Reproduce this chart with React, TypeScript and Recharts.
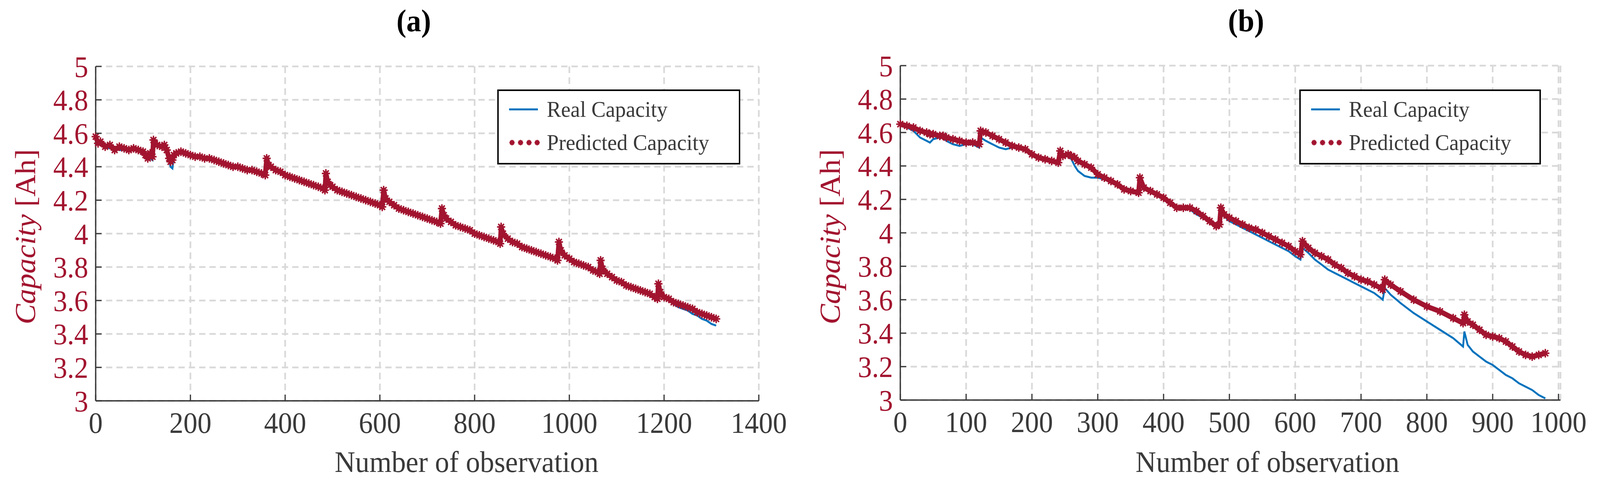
import { LineChart, Line, XAxis, YAxis, CartesianGrid, Legend } from 'recharts';

// panel (a)
const obsA = [
  0, 5, 10, 20, 30, 40, 50, 60, 70, 80, 90, 100, 105, 110, 115, 120,
  122, 125, 130, 140, 145, 150, 155, 158, 162,
  165, 170, 180, 190, 200, 210, 220, 230, 240, 250, 260, 270, 280, 290, 300, 310, 320, 330, 340, 350, 358,
  361, 365, 370, 380, 390, 400, 410, 420, 430, 440, 450, 460, 470, 480, 484,
  486, 490, 495, 500, 510, 520, 530, 540, 550, 560, 570, 580, 590, 600, 605,
  608, 612, 620, 630, 640, 650, 660, 670, 680, 690, 700, 710, 720, 728,
  731, 735, 740, 750, 760, 770, 780, 790, 800, 810, 820, 830, 840, 850, 854,
  856, 860, 870, 880, 890, 900, 910, 920, 930, 940, 950, 960, 970, 975,
  978, 982, 990, 1000, 1010, 1020, 1030, 1040, 1050, 1060, 1064,
  1066, 1070, 1080, 1090, 1100, 1110, 1120, 1130, 1140, 1150, 1160, 1170, 1180, 1186,
  1188, 1192, 1200, 1210, 1220, 1230, 1240, 1250, 1260, 1270, 1280, 1290, 1300, 1310,
];
const realA = [
  4.57, 4.55, 4.53, 4.52, 4.51, 4.51, 4.5, 4.5, 4.51, 4.5, 4.49, 4.48, 4.45, 4.44, 4.45, 4.44,
  4.55, 4.54, 4.53, 4.52, 4.51, 4.49, 4.44, 4.4, 4.39,
  4.46, 4.48, 4.48, 4.47, 4.47, 4.46, 4.46, 4.45, 4.44, 4.43, 4.43, 4.42, 4.41, 4.4, 4.4, 4.39, 4.38, 4.37, 4.37, 4.36, 4.35,
  4.44, 4.41, 4.4, 4.38, 4.36, 4.35, 4.34, 4.33, 4.32, 4.3, 4.29, 4.28, 4.28, 4.27, 4.26,
  4.34, 4.3, 4.28, 4.27, 4.26, 4.25, 4.24, 4.23, 4.22, 4.21, 4.2, 4.19, 4.18, 4.17, 4.16,
  4.24, 4.21, 4.19, 4.17, 4.15, 4.14, 4.13, 4.12, 4.11, 4.1, 4.09, 4.08, 4.07, 4.06,
  4.13, 4.11, 4.09, 4.07, 4.05, 4.04, 4.03, 4.01, 4.0, 3.99, 3.98, 3.97, 3.96, 3.95, 3.94,
  4.02, 4.0, 3.97, 3.95, 3.94, 3.92, 3.91, 3.9, 3.89, 3.88, 3.87, 3.86, 3.85, 3.84,
  3.93, 3.9, 3.87, 3.85, 3.83, 3.82, 3.81, 3.8, 3.78, 3.77, 3.76,
  3.82, 3.79, 3.76, 3.74, 3.72, 3.71, 3.69, 3.68, 3.67, 3.66, 3.65, 3.64, 3.62, 3.61,
  3.66, 3.64, 3.62, 3.6, 3.58, 3.56, 3.55, 3.54, 3.52, 3.51, 3.49, 3.48, 3.46, 3.45,
];
const predA = [
  4.58, 4.54, 4.55, 4.52, 4.53, 4.5, 4.52, 4.51, 4.5, 4.51, 4.5, 4.49, 4.47, 4.45, 4.48, 4.46,
  4.56, 4.54, 4.53, 4.52, 4.53, 4.5, 4.45, 4.43, 4.44,
  4.47, 4.48, 4.49, 4.48, 4.47, 4.46, 4.46, 4.45, 4.45, 4.44, 4.43, 4.42, 4.41, 4.4, 4.4, 4.39, 4.38, 4.38, 4.37, 4.36, 4.35,
  4.45, 4.41, 4.4, 4.38, 4.37, 4.35, 4.34, 4.33, 4.32, 4.31, 4.3, 4.29, 4.28, 4.27, 4.26,
  4.36, 4.31, 4.29, 4.28, 4.26, 4.25, 4.24, 4.23, 4.22, 4.21, 4.2, 4.19, 4.18, 4.17, 4.16,
  4.26, 4.21, 4.19, 4.17, 4.15, 4.14, 4.13, 4.12, 4.11, 4.1, 4.09, 4.08, 4.07, 4.06,
  4.15, 4.11, 4.09, 4.07, 4.05, 4.04, 4.03, 4.02, 4.0, 3.99, 3.98, 3.97, 3.96, 3.95, 3.94,
  4.04, 4.0, 3.97, 3.95, 3.94, 3.92, 3.91, 3.9, 3.89, 3.88, 3.87, 3.86, 3.85, 3.84,
  3.95, 3.9, 3.87, 3.85, 3.83, 3.82, 3.81, 3.8, 3.78, 3.77, 3.76,
  3.84, 3.79, 3.76, 3.74, 3.72, 3.71, 3.69, 3.68, 3.67, 3.66, 3.65, 3.64, 3.62, 3.61,
  3.7, 3.65, 3.62, 3.61, 3.59, 3.58, 3.57, 3.56, 3.55, 3.53, 3.52, 3.51, 3.5, 3.49,
];

// panel (b)
const obsB = [
  0, 10, 20, 30, 40, 45, 50, 60, 65, 70, 80, 90, 100, 110, 120,
  122, 130, 140, 150, 160, 170, 180, 190, 200, 210, 220, 230, 240,
  243, 247, 255, 260, 265, 270, 280, 290, 300, 310, 320, 330, 340, 350, 362,
  364, 370, 380, 390, 400, 410, 420, 430, 440, 450, 460, 470, 480, 485,
  487, 492, 500, 510, 520, 530, 540, 550, 560, 570, 580, 590, 600, 608,
  611, 620, 630, 640, 650, 660, 670, 680, 690, 700, 710, 720, 730, 733,
  736, 745, 760, 780, 800, 820, 840, 855,
  857, 862, 870, 880, 890, 900, 910, 920, 930, 940, 950, 960, 970, 980,
];
const realB = [
  4.64, 4.63, 4.61, 4.57, 4.55, 4.54, 4.56, 4.57, 4.57, 4.55, 4.53, 4.52, 4.53, 4.53, 4.51,
  4.57, 4.55, 4.53, 4.51, 4.5, 4.51, 4.51, 4.49, 4.47, 4.45, 4.44, 4.43, 4.41,
  4.47, 4.46, 4.46, 4.44, 4.4, 4.37, 4.34, 4.33, 4.33, 4.32, 4.3, 4.29, 4.27, 4.26, 4.23,
  4.31, 4.27, 4.25, 4.23, 4.2, 4.18, 4.16, 4.15, 4.14, 4.11, 4.09, 4.07, 4.05, 4.05,
  4.12, 4.1, 4.07, 4.05, 4.03, 4.01, 3.99, 3.97, 3.95, 3.93, 3.91, 3.89, 3.86, 3.84,
  3.91, 3.88, 3.84, 3.81, 3.78, 3.76, 3.74, 3.72, 3.7, 3.68, 3.66, 3.64, 3.61, 3.6,
  3.67, 3.63, 3.58, 3.52, 3.47, 3.42, 3.37, 3.32,
  3.41, 3.33, 3.29, 3.26, 3.23, 3.21, 3.18, 3.15, 3.13, 3.1, 3.08, 3.06, 3.03, 3.01,
];
const predB = [
  4.65, 4.64, 4.63, 4.61, 4.6, 4.59, 4.59, 4.58, 4.58, 4.57, 4.56, 4.55, 4.54, 4.54, 4.53,
  4.61, 4.6, 4.58, 4.56, 4.54, 4.52, 4.51, 4.5, 4.47, 4.45, 4.44, 4.43, 4.42,
  4.49, 4.46, 4.47, 4.46, 4.45, 4.43, 4.41, 4.39, 4.35, 4.33, 4.31, 4.29, 4.26, 4.25, 4.24,
  4.33, 4.27, 4.25, 4.23, 4.21, 4.18, 4.15, 4.15, 4.15, 4.13, 4.1, 4.07, 4.04, 4.05,
  4.15, 4.11, 4.09, 4.07, 4.05, 4.03, 4.02, 4.0, 3.98, 3.96, 3.94, 3.92, 3.89, 3.87,
  3.95, 3.91, 3.88, 3.86, 3.84, 3.81, 3.79, 3.76, 3.74, 3.72, 3.71, 3.69, 3.67, 3.66,
  3.72, 3.69, 3.65, 3.6, 3.56, 3.53, 3.49, 3.46,
  3.51, 3.47, 3.45, 3.42, 3.39, 3.38, 3.37, 3.35, 3.32, 3.29, 3.27, 3.26, 3.27, 3.28,
];

const xTicksA = [0, 200, 400, 600, 800, 1000, 1200, 1400];
const xTicksB = [0, 100, 200, 300, 400, 500, 600, 700, 800, 900, 1000];
const yTicks = [3, 3.2, 3.4, 3.6, 3.8, 4, 4.2, 4.4, 4.6, 4.8, 5];

const RED = '#A2142F';
const BLUE = '#0072BD';
const AXIS = '#383838';
const GRID = '#D9D9D9';
const TEXT = '#3a3a3a';
const FONT = '"Liberation Serif", "Times New Roman", serif';
const TICK = 16;

// the browser viewport is capped at 4096px wide; the 4331px layout is squeezed to fit
const FIG_W = 4331;
const FIG_H = 1244;
const VIEW_W = 4096;

const dataA = obsA.map((obs, i) => ({ obs, real: realA[i], pred: predA[i] }));
const dataB = obsB.map((obs, i) => ({ obs, real: realB[i], pred: predB[i] }));

function Star({ cx, cy, r = 11, w = 4 }: any) {
  if (cx == null || cy == null) return null;
  const d = r * 0.7071;
  return (
    <g stroke={RED} strokeWidth={w}>
      <line x1={cx - r} y1={cy} x2={cx + r} y2={cy} />
      <line x1={cx} y1={cy - r} x2={cx} y2={cy + r} />
      <line x1={cx - d} y1={cy - d} x2={cx + d} y2={cy + d} />
      <line x1={cx - d} y1={cy + d} x2={cx + d} y2={cy - d} />
    </g>
  );
}

function BottomTick({ x, y, payload }: any) {
  return (
    <g>
      <line x1={x} y1={y} x2={x} y2={y - TICK} stroke={AXIS} strokeWidth={3} />
      <text x={x} y={y + 82} textAnchor="middle" fill={TEXT} fontSize={76} fontFamily={FONT}>
        {payload.value}
      </text>
    </g>
  );
}

function TopTick({ x, y }: any) {
  return <line x1={x} y1={y} x2={x} y2={y + TICK} stroke={AXIS} strokeWidth={3} />;
}

function LeftTick({ x, y, payload }: any) {
  return (
    <g>
      <line x1={x} y1={y} x2={x + TICK} y2={y} stroke={AXIS} strokeWidth={3} />
      <text x={x - 20} y={y} dy="0.35em" textAnchor="end" fill={RED} fontSize={76} fontFamily={FONT}>
        {payload.value}
      </text>
    </g>
  );
}

function RightTick({ x, y }: any) {
  return <line x1={x} y1={y} x2={x - TICK} y2={y} stroke={AXIS} strokeWidth={3} />;
}

function LegendBox({ width }: { width: number }) {
  return (
    <svg width={width} height={192} style={{ display: 'block', overflow: 'visible' }}>
      <rect x={2} y={2} width={width - 4} height={188} fill="#fff" stroke="#000" strokeWidth={4} />
      <line x1={32} y1={51} x2={110} y2={51} stroke={BLUE} strokeWidth={5} />
      {[40, 63, 86, 108].map((cx) => (
        <Star key={cx} cx={cx} cy={136} r={7} w={4} />
      ))}
      <text x={134} y={70} fill={TEXT} fontSize={58} fontFamily={FONT}>Real Capacity</text>
      <text x={134} y={155} fill={TEXT} fontSize={58} fontFamily={FONT}>Predicted Capacity</text>
    </svg>
  );
}

function Panel(props: any) {
  const { data, left, width, margin, xDomain, xTicks, title, titleX, xLabelX, yLabelX, legendLeft, legendWidth } = props;
  const axisLine = { stroke: AXIS, strokeWidth: 3.5 };
  return (
    <div style={{ position: 'absolute', left, top: 0, width, height: FIG_H }}>
      <div
        style={{
          position: 'absolute',
          left: titleX - 100,
          top: 13,
          width: 200,
          textAlign: 'center',
          fontFamily: FONT,
          fontWeight: 'bold',
          fontSize: 80,
          lineHeight: '80px',
          color: '#000',
        }}
      >
        {title}
      </div>
      <LineChart width={width} height={FIG_H} data={data} margin={margin}>
        <CartesianGrid stroke={GRID} strokeWidth={4.5} strokeDasharray="17 11" />
        <XAxis
          dataKey="obs"
          type="number"
          domain={xDomain}
          ticks={xTicks}
          interval={0}
          height={100}
          tickSize={0}
          tickMargin={0}
          tickLine={false}
          axisLine={axisLine}
          tick={<BottomTick />}
          label={() => (
            <text x={xLabelX} y={1208} textAnchor="middle" fill={TEXT} fontSize={77} fontFamily={FONT}>
              Number of observation
            </text>
          )}
        />
        <XAxis
          xAxisId="top"
          orientation="top"
          dataKey="obs"
          type="number"
          domain={xDomain}
          ticks={xTicks}
          interval={0}
          height={0}
          tickSize={0}
          tickMargin={0}
          tickLine={false}
          axisLine={axisLine}
          tick={<TopTick />}
        />
        <YAxis
          type="number"
          domain={[3, 5]}
          ticks={yTicks}
          interval={0}
          width={100}
          tickSize={0}
          tickMargin={0}
          tickLine={false}
          axisLine={axisLine}
          tick={<LeftTick />}
          label={() => (
            <text
              x={yLabelX}
              y={606}
              transform={`rotate(-90 ${yLabelX} 606)`}
              textAnchor="middle"
              dominantBaseline="central"
              fill={RED}
              fontSize={78}
              fontFamily={FONT}
            >
              <tspan fontStyle="italic">Capacity</tspan>
              <tspan>{' [Ah]'}</tspan>
            </text>
          )}
        />
        <YAxis
          yAxisId="right"
          orientation="right"
          type="number"
          domain={[3, 5]}
          ticks={yTicks}
          interval={0}
          width={0}
          tickSize={0}
          tickMargin={0}
          tickLine={false}
          axisLine={axisLine}
          tick={<RightTick />}
        />
        <Line type="linear" dataKey="real" stroke={BLUE} strokeWidth={5} dot={false} isAnimationActive={false} />
        <Line
          type="linear"
          dataKey="pred"
          stroke={RED}
          strokeWidth={13}
          strokeLinejoin="round"
          dot={(p: any) => <Star key={p.index} cx={p.cx} cy={p.cy} />}
          isAnimationActive={false}
        />
        <Legend
          layout="vertical"
          align="center"
          verticalAlign="middle"
          wrapperStyle={{ left: legendLeft, top: 229, width: legendWidth, height: 192 }}
          content={() => <LegendBox width={legendWidth} />}
        />
      </LineChart>
    </div>
  );
}

export default function App() {
  return (
    <div
      style={{
        position: 'absolute',
        left: 0,
        top: 0,
        width: VIEW_W,
        height: FIG_H,
        overflow: 'hidden',
        background: '#fff',
      }}
    >
      <div
        style={{
          position: 'absolute',
          left: 0,
          top: 0,
          width: FIG_W,
          height: FIG_H,
          transform: `scaleX(${VIEW_W / FIG_W})`,
          transformOrigin: '0 0',
        }}
      >
        <Panel
          data={dataA}
          left={0}
          width={2165}
          margin={{ top: 170, right: 111, bottom: 118, left: 159 }}
          xDomain={[0, 1400]}
          xTicks={xTicksA}
          title="(a)"
          titleX={1120}
          xLabelX={1263}
          yLabelX={68}
          legendLeft={1346}
          legendWidth={658}
        />
        <Panel
          data={dataB}
          left={2165}
          width={2166}
          margin={{ top: 168, right: 107, bottom: 120, left: 172 }}
          xDomain={[0, 1003]}
          xTicks={xTicksB}
          title="(b)"
          titleX={1208}
          xLabelX={1266}
          yLabelX={82}
          legendLeft={1352}
          legendWidth={654}
        />
      </div>
    </div>
  );
}
